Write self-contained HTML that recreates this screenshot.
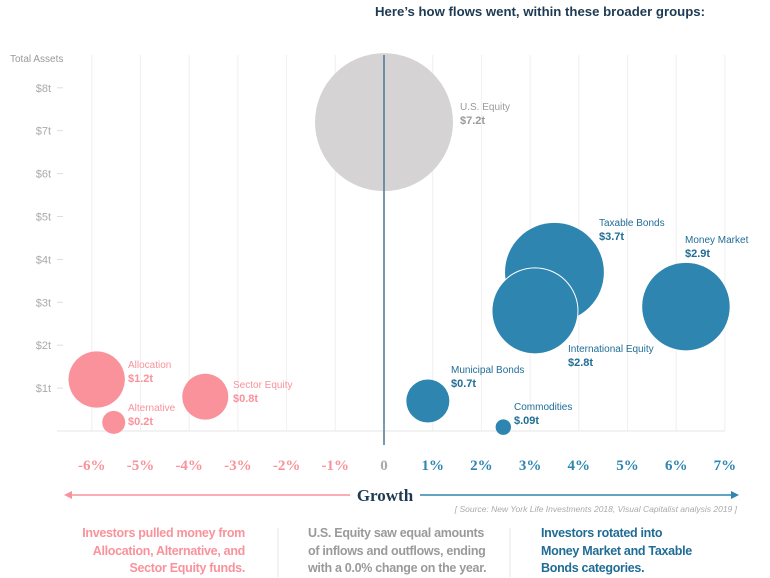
<!DOCTYPE html>
<html><head><meta charset="utf-8"><style>
body{margin:0;background:#fff;width:770px;height:577px;overflow:hidden;font-family:"Liberation Sans",sans-serif}
svg{position:absolute;left:0;top:0}
.note{position:absolute;font-size:12.5px;font-weight:bold;line-height:17.5px;letter-spacing:-0.3px}
</style></head><body>
<svg width="770" height="577">
<g id="grid"></g><g id="marks"></g><g id="labels"></g>
<text x="375" y="16" font-size="13.2" font-weight="bold" fill="#1d3a52">Here’s how flows went, within these broader groups:</text>
<text x="10" y="62" font-size="10" fill="#999">Total Assets</text>
<line x1="70" y1="495" x2="350" y2="495" stroke="#f9929b" stroke-width="1.5"/>
<path d="M64 495 L72 491 L72 499Z" fill="#f9929b"/>
<line x1="420" y1="495" x2="732" y2="495" stroke="#2e86b0" stroke-width="1.5"/>
<path d="M739 495 L731 491 L731 499Z" fill="#2e86b0"/>
<text x="385" y="501" text-anchor="middle" font-family="Liberation Serif,serif" font-weight="bold" font-size="17" fill="#1d3a52">Growth</text>
<text x="737" y="512" text-anchor="end" font-size="8.5" font-style="italic" fill="#aaa">[ Source: New York Life Investments 2018, Visual Capitalist analysis 2019 ]</text>
<line x1="278" y1="528" x2="278" y2="577" stroke="#e4e4e4"/>
<line x1="510" y1="528" x2="510" y2="577" stroke="#e4e4e4"/>
</svg>
<div class="note" style="right:525px;top:525px;text-align:right;color:#f9929b">Investors pulled money from<br>Allocation, Alternative, and<br>Sector Equity funds.</div>
<div class="note" style="left:308px;top:525px;color:#9a9a9a">U.S. Equity saw equal amounts<br>of inflows and outflows, ending<br>with a 0.0% change on the year.</div>
<div class="note" style="left:541px;top:525px;color:#1f6d96">Investors rotated into<br>Money Market and Taxable<br>Bonds categories.</div>
<script>
const names=["Allocation","Alternative","Sector Equity","U.S. Equity","Taxable Bonds","International Equity","Money Market","Municipal Bonds","Commodities"];
const growth=[-5.9,-5.55,-3.67,0,3.5,3.1,6.2,0.9,2.45];
const assets=[1.2,0.2,0.8,7.2,3.7,2.8,2.9,0.7,0.09];
const valueLabels=["$1.2t","$0.2t","$0.8t","$7.2t","$3.7t","$2.8t","$2.9t","$0.7t","$.09t"];
const xTicks=[-6,-5,-4,-3,-2,-1,0,1,2,3,4,5,6,7];
const xTickLabels=["-6%","-5%","-4%","-3%","-2%","-1%","0","1%","2%","3%","4%","5%","6%","7%"];
const yTicks=[1,2,3,4,5,6,7,8];
const yTickLabels=["$1t","$2t","$3t","$4t","$5t","$6t","$7t","$8t"];
const NS="http://www.w3.org/2000/svg";
const x=v=>384+48.7*v, y=v=>431-42.9*v, r=v=>25.7*Math.sqrt(v);
const col=g=>g<0?"#f9929b":g>0?"#2e86b0":"#d5d3d4";
const txtCol=g=>g<0?"#f9929b":g>0?"#1f6d96":"#9a9a9a";
function mk(t,a,p){const e=document.createElementNS(NS,t);for(const k in a)e.setAttribute(k,a[k]);p.appendChild(e);return e;}
const grid=document.getElementById("grid"),marks=document.getElementById("marks"),labels=document.getElementById("labels");
xTicks.forEach((t,i)=>{
 if(t!==0){const l=mk("line",{x1:x(t),x2:x(t),y1:55,y2:431,stroke:"#f0f0f0"},grid);
 
 }
 const tx=mk("text",{x:x(t),y:470,"text-anchor":"middle","font-family":"Liberation Serif,serif","font-weight":"bold","font-size":"15",fill:t<0?"#f9929b":t>0?"#2e86b0":"#aaa"},grid);
 tx.textContent=xTickLabels[i];
 
 
});
yTicks.forEach((t,i)=>{
 mk("line",{x1:57,x2:63,y1:y(t),y2:y(t),stroke:"#ddd"},grid);
 const tx=mk("text",{x:51,y:y(t)+4,"text-anchor":"end","font-size":"11",fill:"#aaa"},grid);
 tx.textContent=yTickLabels[i];
 
 
});
mk("line",{x1:57,x2:725,y1:431,y2:431,stroke:"#e6e6e6"},grid);
const order=[0,1,2,3,4,6,7,8,5];
order.forEach(i=>{
 const c=mk("circle",{cx:x(growth[i]),cy:y(assets[i]),r:r(assets[i]),fill:col(growth[i]),stroke:i===5?"#fff":"none","stroke-width":1},marks);
 
 
});
const axisLine=mk("line",{x1:384,x2:384,y1:55,y2:445,stroke:"#4d7894","stroke-width":1.5},marks);


const lpos=[[128,368],[128,411],[233,388],[460,110],[599,226],[568,352],[685,243],[451,373],[514,410]];
names.forEach((n,i)=>{
 const g=mk("g",{},labels);
 
 
 const a=mk("text",{x:lpos[i][0],y:lpos[i][1],"font-size":"10",fill:txtCol(growth[i])},g);a.textContent=n;
 const b=mk("text",{x:lpos[i][0],y:lpos[i][1]+14,"font-size":"11","font-weight":"bold",fill:txtCol(growth[i])},g);b.textContent=valueLabels[i];
});
</script>
</body></html>
